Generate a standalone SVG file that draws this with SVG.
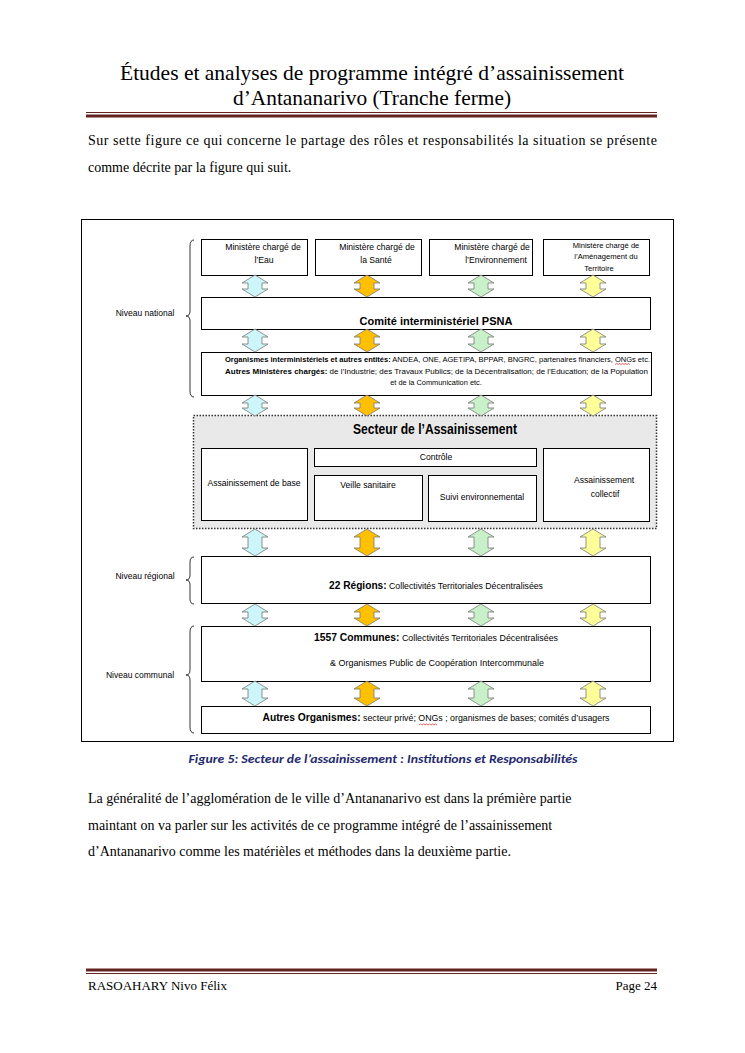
<svg xmlns="http://www.w3.org/2000/svg" width="745" height="1053" viewBox="0 0 745 1053">
<style>
.pg{font-family:"Liberation Serif",serif;fill:#000}
.hd{font-family:"Liberation Serif",serif;fill:#000}
.dg{font-family:"Liberation Sans",Arial,sans-serif;fill:#000}
.box{fill:#fff;stroke:#000;stroke-width:1}
.br{fill:none;stroke:#000;stroke-width:0.8}
.ar{stroke:#777;stroke-width:0.8}
.c1{fill:#ccf6fa}
.c2{fill:#ffc000}
.c3{fill:#c9f1c9}
.c4{fill:#ffff99}
.sq{fill:none;stroke:#e02020;stroke-width:0.7}
</style>
<rect width="745" height="1053" fill="#fff"/>
<!-- header -->
<g id="header">
<text class="hd" x="372" y="80" font-size="21" text-anchor="middle" textLength="504" lengthAdjust="spacingAndGlyphs">Études et analyses de programme intégré d’assainissement</text>
<text class="hd" x="372" y="105" font-size="21" text-anchor="middle" textLength="278" lengthAdjust="spacingAndGlyphs">d’Antananarivo (Tranche ferme)</text>
<line x1="86" y1="112.5" x2="657" y2="112.5" stroke="#622423" stroke-width="1"/>
<line x1="86" y1="116" x2="657" y2="116" stroke="#622423" stroke-width="3"/>
</g>
<g id="intro">
<text class="pg" x="88" y="145" font-size="14" textLength="569" lengthAdjust="spacing">Sur sette figure ce qui concerne le partage des rôles et responsabilités la situation se présente</text>
<text class="pg" x="88" y="172" font-size="14">comme décrite par la figure qui suit.</text>
</g>
<!-- frame -->
<rect x="81.5" y="219.5" width="592" height="522" fill="none" stroke="#000" stroke-width="1"/>
<!-- level labels and braces -->
<g id="niveau-national">
<text class="dg" x="145" y="316" font-size="8.5" text-anchor="middle" fill="#222">Niveau national</text>
<path class="br" d="M194,240 Q190,240 190,246 L190,311 Q190,316 186,316 Q190,316 190,321 L190,391 Q190,397 194,397"/>
</g>
<g id="niveau-regional">
<text class="dg" x="145" y="579" font-size="8.5" text-anchor="middle" fill="#222">Niveau régional</text>
<path class="br" d="M194,557 Q190,557 190,562 L190,575 Q190,580 186,580 Q190,580 190,585 L190,599 Q190,604 194,604"/>
</g>
<g id="niveau-communal">
<text class="dg" x="140" y="678" font-size="8.5" text-anchor="middle" fill="#222">Niveau communal</text>
<path class="br" d="M194,626 Q190,626 190,632 L190,670 Q190,675 186,675 Q190,675 190,680 L190,727 Q190,733 194,733"/>
</g>
<!-- ministries -->
<g id="min-eau">
<rect class="box" x="201.5" y="239.5" width="106" height="36"/>
<text class="dg" x="263" y="250" font-size="8.6" text-anchor="middle">Ministère chargé de</text>
<text class="dg" x="264" y="263" font-size="8.6" text-anchor="middle">l’Eau</text>
</g>
<g id="min-sante">
<rect class="box" x="315.5" y="239.5" width="106" height="36"/>
<text class="dg" x="377" y="250" font-size="8.6" text-anchor="middle">Ministère chargé de</text>
<text class="dg" x="376" y="263" font-size="8.6" text-anchor="middle">la Santé</text>
</g>
<g id="min-env">
<rect class="box" x="429.5" y="239.5" width="103" height="36"/>
<text class="dg" x="492" y="250" font-size="8.6" text-anchor="middle">Ministère chargé de</text>
<text class="dg" x="496" y="263" font-size="8.6" text-anchor="middle">l’Environnement</text>
</g>
<g id="min-amenagement">
<rect class="box" x="543.5" y="239.5" width="106" height="36"/>
<text class="dg" x="606" y="248" font-size="7.6" text-anchor="middle">Ministère chargé de</text>
<text class="dg" x="606" y="259" font-size="7.6" text-anchor="middle">l’Aménagement du</text>
<text class="dg" x="599" y="271" font-size="7.6" text-anchor="middle">Territoire</text>
</g>
<g id="comite">
<rect class="box" x="201.5" y="297.5" width="449" height="32"/>
<text class="dg" x="436" y="325" font-size="11" font-weight="bold" text-anchor="middle">Comité interministériel PSNA</text>
</g>
<g id="organismes">
<rect class="box" x="201.5" y="352.5" width="450" height="43"/>
<text class="dg" x="225" y="362" font-size="7.4" textLength="425" lengthAdjust="spacingAndGlyphs"><tspan font-weight="bold">Organismes interministériels  et autres entités:</tspan> ANDEA, ONE, AGETIPA, BPPAR, BNGRC, partenaires financiers, ONGs etc.</text>
<text class="dg" x="225" y="374" font-size="7.2" textLength="423" lengthAdjust="spacingAndGlyphs"><tspan font-weight="bold">Autres Ministères  chargés:</tspan> de l’Industrie; des Travaux Publics; de la Décentralisation; de l’Education; de la Population</text>
<text class="dg" x="436" y="385" font-size="7.4" text-anchor="middle">et de la Communication etc.</text>
<path class="sq" d="M615,364.5 l1.5,-1 l1.5,1 l1.5,-1 l1.5,1 l1.5,-1 l1.5,1 l1.5,-1 l1.5,1 l1.5,-1 l1.5,1"/>
</g>
<!-- secteur -->
<g id="secteur">
<rect x="193.5" y="415.5" width="463" height="113" fill="#e9e9e9" stroke="#333" stroke-width="1.5" stroke-dasharray="1.5,1.5"/>
<text class="dg" x="435" y="434" font-size="15" font-weight="bold" text-anchor="middle" textLength="164" lengthAdjust="spacingAndGlyphs">Secteur de l’Assainissement</text>
</g>
<g id="ass-base">
<rect class="box" x="201.5" y="448.5" width="106" height="72"/>
<text class="dg" x="254" y="486" font-size="8.6" text-anchor="middle">Assainissement de base</text>
</g>
<g id="controle">
<rect class="box" x="314.5" y="448.5" width="222" height="18"/>
<text class="dg" x="436" y="460" font-size="8.6" text-anchor="middle">Contrôle</text>
</g>
<g id="veille">
<rect class="box" x="314.5" y="475.5" width="108" height="45"/>
<text class="dg" x="368" y="488" font-size="8.6" text-anchor="middle">Veille sanitaire</text>
</g>
<g id="suivi">
<rect class="box" x="428.5" y="475.5" width="108" height="46"/>
<text class="dg" x="482" y="500" font-size="8.6" text-anchor="middle">Suivi environnemental</text>
</g>
<g id="ass-collectif">
<rect class="box" x="543.5" y="448.5" width="106" height="73"/>
<text class="dg" x="604" y="483" font-size="8.6" text-anchor="middle">Assainissement</text>
<text class="dg" x="605" y="497" font-size="8.6" text-anchor="middle">collectif</text>
</g>
<g id="regions">
<rect class="box" x="201.5" y="556.5" width="449" height="47"/>
<text class="dg" x="436" y="589" font-size="9" text-anchor="middle" textLength="214" lengthAdjust="spacingAndGlyphs"><tspan font-weight="bold" font-size="10.5">22 Régions:</tspan> Collectivités Territoriales Décentralisées</text>
</g>
<g id="communes">
<rect class="box" x="201.5" y="626.5" width="449" height="55"/>
<text class="dg" x="436" y="641" font-size="9" text-anchor="middle" textLength="244" lengthAdjust="spacingAndGlyphs"><tspan font-weight="bold" font-size="10.5">1557 Communes:</tspan> Collectivités Territoriales Décentralisées</text>
<text class="dg" x="437" y="666" font-size="9" text-anchor="middle" textLength="214" lengthAdjust="spacingAndGlyphs">&amp; Organismes Public de Coopération Intercommunale</text>
</g>
<g id="autres">
<rect class="box" x="201.5" y="706.5" width="449" height="27"/>
<text class="dg" x="436" y="721" font-size="9" text-anchor="middle" textLength="347" lengthAdjust="spacingAndGlyphs"><tspan font-weight="bold" font-size="10.5">Autres Organismes:</tspan> secteur privé; ONGs ; organismes de bases; comités d’usagers</text>
<path class="sq" d="M419,725 l1.5,-1 l1.5,1 l1.5,-1 l1.5,1 l1.5,-1 l1.5,1 l1.5,-1 l1.5,1 l1.5,-1 l1.5,1 l1.5,-1 l1.5,1"/>
</g>
<!-- connectors: double arrows -->
<g id="connectors" class="ar">
<path class="c1" transform="translate(255,275)" d="M0,0 l13,8 h-6 v6 h6 l-13,8 l-13,-8 h6 v-6 h-6 z"/>
<path class="c2" transform="translate(367,275)" d="M0,0 l13,8 h-6 v6 h6 l-13,8 l-13,-8 h6 v-6 h-6 z"/>
<path class="c3" transform="translate(481,275)" d="M0,0 l13,8 h-6 v6 h6 l-13,8 l-13,-8 h6 v-6 h-6 z"/>
<path class="c4" transform="translate(593,275)" d="M0,0 l13,8 h-6 v6 h6 l-13,8 l-13,-8 h6 v-6 h-6 z"/>
<path class="c1" transform="translate(255,329)" d="M0,0 l13,8 h-6 v7 h6 l-13,8 l-13,-8 h6 v-7 h-6 z"/>
<path class="c2" transform="translate(367,329)" d="M0,0 l13,8 h-6 v7 h6 l-13,8 l-13,-8 h6 v-7 h-6 z"/>
<path class="c3" transform="translate(481,329)" d="M0,0 l13,8 h-6 v7 h6 l-13,8 l-13,-8 h6 v-7 h-6 z"/>
<path class="c4" transform="translate(593,329)" d="M0,0 l13,8 h-6 v7 h6 l-13,8 l-13,-8 h6 v-7 h-6 z"/>
<path class="c1" transform="translate(255,395)" d="M0,0 l13,8 h-6 v5 h6 l-13,8 l-13,-8 h6 v-5 h-6 z"/>
<path class="c2" transform="translate(367,395)" d="M0,0 l13,8 h-6 v5 h6 l-13,8 l-13,-8 h6 v-5 h-6 z"/>
<path class="c3" transform="translate(481,395)" d="M0,0 l13,8 h-6 v5 h6 l-13,8 l-13,-8 h6 v-5 h-6 z"/>
<path class="c4" transform="translate(593,395)" d="M0,0 l13,8 h-6 v5 h6 l-13,8 l-13,-8 h6 v-5 h-6 z"/>
<path class="c1" transform="translate(255,529)" d="M0,0 l13,8 h-6 v11 h6 l-13,8 l-13,-8 h6 v-11 h-6 z"/>
<path class="c2" transform="translate(367,529)" d="M0,0 l13,8 h-6 v11 h6 l-13,8 l-13,-8 h6 v-11 h-6 z"/>
<path class="c3" transform="translate(481,529)" d="M0,0 l13,8 h-6 v11 h6 l-13,8 l-13,-8 h6 v-11 h-6 z"/>
<path class="c4" transform="translate(593,529)" d="M0,0 l13,8 h-6 v11 h6 l-13,8 l-13,-8 h6 v-11 h-6 z"/>
<path class="c1" transform="translate(255,604)" d="M0,0 l13,8 h-6 v6 h6 l-13,8 l-13,-8 h6 v-6 h-6 z"/>
<path class="c2" transform="translate(367,604)" d="M0,0 l13,8 h-6 v6 h6 l-13,8 l-13,-8 h6 v-6 h-6 z"/>
<path class="c3" transform="translate(481,604)" d="M0,0 l13,8 h-6 v6 h6 l-13,8 l-13,-8 h6 v-6 h-6 z"/>
<path class="c4" transform="translate(593,604)" d="M0,0 l13,8 h-6 v6 h6 l-13,8 l-13,-8 h6 v-6 h-6 z"/>
<path class="c1" transform="translate(255,681)" d="M0,0 l13,8 h-6 v9 h6 l-13,8 l-13,-8 h6 v-9 h-6 z"/>
<path class="c2" transform="translate(367,681)" d="M0,0 l13,8 h-6 v9 h6 l-13,8 l-13,-8 h6 v-9 h-6 z"/>
<path class="c3" transform="translate(481,681)" d="M0,0 l13,8 h-6 v9 h6 l-13,8 l-13,-8 h6 v-9 h-6 z"/>
<path class="c4" transform="translate(593,681)" d="M0,0 l13,8 h-6 v9 h6 l-13,8 l-13,-8 h6 v-9 h-6 z"/>
</g>
<!-- caption -->
<text x="383" y="763" font-family="Carlito,'Liberation Sans',sans-serif" font-size="11" font-weight="bold" font-style="italic" fill="#1f2a6e" text-anchor="middle" textLength="389" lengthAdjust="spacingAndGlyphs">Figure 5: Secteur de l’assainissement : Institutions et Responsabilités</text>
<g id="conclusion">
<text class="pg" x="88" y="803" font-size="14">La généralité de l’agglomération de le ville d’Antananarivo est dans la prémière partie</text>
<text class="pg" x="88" y="830" font-size="14">maintant on va parler sur les activités de ce programme intégré de l’assainissement</text>
<text class="pg" x="88" y="856" font-size="14">d’Antananarivo comme les matérièles et méthodes dans la deuxième partie.</text>
</g>
<g id="footer">
<line x1="86" y1="970" x2="657" y2="970" stroke="#622423" stroke-width="3"/>
<line x1="86" y1="973.5" x2="657" y2="973.5" stroke="#622423" stroke-width="1"/>
<text class="hd" x="88" y="990" font-size="13">RASOAHARY Nivo Félix</text>
<text class="hd" x="657" y="990" font-size="13" text-anchor="end">Page 24</text>
</g>
</svg>
